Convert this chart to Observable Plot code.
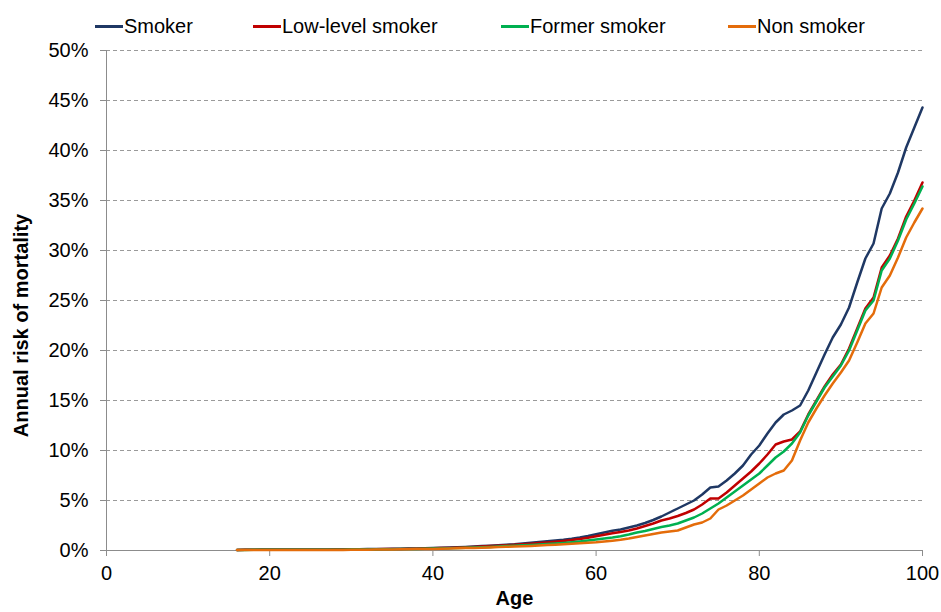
<!DOCTYPE html>
<html>
<head>
<meta charset="utf-8">
<script src="https://cdn.jsdelivr.net/npm/d3@7"></script>
<script src="https://cdn.jsdelivr.net/npm/@observablehq/plot@0.6"></script>
<style>
  html, body { margin: 0; padding: 0; background: #fff; }
  #wrap { width: 941px; font-family: "Liberation Sans", Arial, sans-serif; }
  #legend { position: relative; height: 40px; width: 941px; }
  .sw { position: absolute; top: 25px; width: 28px; height: 3px; }
  .lbl { position: absolute; top: 14px; font-size: 20px; line-height: 24px; white-space: nowrap; color: #000; }
</style>
</head>
<body>
<div id="wrap">
  <div id="legend"></div>
  <div id="chart"></div>
</div>
<script>
const seriesNames = ["Smoker", "Low-level smoker", "Former smoker", "Non smoker"];
const seriesColors = ["#1F3864", "#C00000", "#00B050", "#E46C0A"];

const ages = [16,17,18,19,20,21,22,23,24,25,26,27,28,29,
  30,31,32,33,34,35,36,37,38,39,
  40,41,42,43,44,45,46,47,48,49,
  50,51,52,53,54,55,56,57,58,59,
  60,61,62,63,64,65,66,67,68,69,
  70,71,72,73,74,75,76,77,78,79,
  80,81,82,83,84,85,86,87,88,89,
  90,91,92,93,94,95,96,97,98,99,100];

const smoker = [0.06,0.07,0.08,0.09,0.09,0.09,0.10,0.09,0.09,0.09,0.09,0.09,0.10,0.11,
  0.12,0.13,0.14,0.15,0.16,0.17,0.18,0.19,0.20,0.22,
  0.24,0.27,0.29,0.32,0.36,0.40,0.44,0.48,0.53,0.58,
  0.63,0.70,0.77,0.84,0.92,1.00,1.08,1.18,1.30,1.45,
  1.62,1.80,1.98,2.10,2.30,2.50,2.75,3.05,3.40,3.80,
  4.20,4.60,5.00,5.60,6.30,6.40,7.00,7.70,8.50,9.60,
  10.5,11.7,12.8,13.6,14.0,14.5,16.0,17.8,19.6,21.3,
  22.6,24.3,26.8,29.2,30.7,34.2,35.7,37.8,40.3,42.3,44.3];

const lowLevel = [0.06,0.07,0.08,0.08,0.08,0.08,0.08,0.08,0.08,0.08,0.08,0.08,0.09,0.10,
  0.11,0.12,0.12,0.13,0.14,0.15,0.16,0.17,0.18,0.20,
  0.22,0.24,0.26,0.29,0.32,0.36,0.40,0.44,0.48,0.52,
  0.57,0.62,0.68,0.74,0.80,0.87,0.95,1.04,1.15,1.28,
  1.43,1.58,1.72,1.85,2.00,2.20,2.45,2.70,3.00,3.20,
  3.45,3.75,4.10,4.60,5.20,5.20,5.80,6.50,7.20,7.90,
  8.70,9.60,10.6,10.9,11.1,11.9,13.6,15.0,16.4,17.6,
  18.6,20.2,22.2,24.2,25.3,28.3,29.5,31.2,33.4,35.0,36.8];

const former = [0.05,0.06,0.07,0.07,0.07,0.07,0.07,0.07,0.07,0.07,0.07,0.07,0.08,0.08,
  0.09,0.10,0.10,0.11,0.12,0.13,0.14,0.15,0.16,0.17,
  0.19,0.21,0.23,0.25,0.27,0.30,0.33,0.36,0.40,0.44,
  0.48,0.52,0.56,0.60,0.65,0.70,0.76,0.83,0.91,1.00,
  1.10,1.20,1.30,1.42,1.60,1.80,1.95,2.15,2.35,2.50,
  2.70,3.00,3.30,3.70,4.20,4.70,5.30,5.90,6.50,7.10,
  7.70,8.50,9.30,9.90,10.7,11.8,13.5,14.9,16.3,17.4,
  18.5,20.0,22.0,24.0,25.0,28.0,29.2,31.0,33.1,34.7,36.4];

const nonSmoker = [0.05,0.05,0.06,0.06,0.06,0.06,0.06,0.06,0.06,0.06,0.06,0.06,0.06,0.06,
  0.07,0.08,0.08,0.09,0.10,0.11,0.12,0.13,0.14,0.15,
  0.16,0.18,0.20,0.22,0.24,0.26,0.28,0.31,0.34,0.37,
  0.40,0.43,0.46,0.50,0.54,0.58,0.63,0.68,0.73,0.78,
  0.83,0.90,0.98,1.07,1.20,1.35,1.50,1.65,1.80,1.90,
  2.00,2.30,2.60,2.80,3.20,4.10,4.50,5.00,5.50,6.10,
  6.70,7.30,7.70,8.00,9.00,11.0,12.8,14.2,15.5,16.7,
  17.8,19.0,20.8,22.7,23.7,26.3,27.5,29.3,31.3,32.8,34.2];

const xTicks = [0, 20, 40, 60, 80, 100];
const yTicks = [0, 5, 10, 15, 20, 25, 30, 35, 40, 45, 50];
const yLabel = "Annual risk of mortality";
const xLabel = "Age";

const seriesValues = [smoker, lowLevel, former, nonSmoker];
const data = [];
seriesNames.forEach((name, i) => {
  ages.forEach((a, j) => data.push({series: name, age: a, value: seriesValues[i][j]}));
});

// legend
const legendPos = [95, 253, 501, 728];
const legend = document.getElementById("legend");
seriesNames.forEach((name, i) => {
  const sw = document.createElement("div");
  sw.className = "sw";
  sw.style.left = legendPos[i] + "px";
  sw.style.background = seriesColors[i];
  legend.appendChild(sw);
  const t = document.createElement("div");
  t.className = "lbl";
  t.style.left = (legendPos[i] + 29) + "px";
  t.textContent = name;
  legend.appendChild(t);
});

const chart = Plot.plot({
  width: 941,
  height: 572,
  marginTop: 10,
  marginBottom: 62,
  marginLeft: 106,
  marginRight: 19,
  style: {fontFamily: "'Liberation Sans', Arial, sans-serif", fontSize: "20px", color: "#000", background: "#fff"},
  x: {domain: [0, 100], label: null},
  y: {domain: [0, 50], label: null},
  color: {domain: seriesNames, range: seriesColors},
  marks: [
    Plot.gridY(yTicks.filter(d => d > 0), {stroke: "#9a9a9a", strokeOpacity: 1, strokeDasharray: "4,3", strokeWidth: 1}),
    Plot.axisY(yTicks, {tickSize: 6, tickPadding: 12, tickFormat: d => d + "%", stroke: "#8c8c8c", fontSize: 20}),
    Plot.axisX(xTicks, {tickSize: 6, tickPadding: 9, stroke: "#8c8c8c", fontSize: 20}),
    Plot.ruleX([0], {stroke: "#8c8c8c"}),
    Plot.ruleY([0], {stroke: "#8c8c8c"}),
    Plot.line(data, {x: "age", y: "value", z: "series", stroke: "series", strokeWidth: 2.5, curve: "linear"}),
    Plot.text([yLabel], {text: d => d, frameAnchor: "left", textAnchor: "middle", lineAnchor: "middle", rotate: -90, dx: -85, dy: 25, fontWeight: "bold", fontSize: 20}),
    Plot.text([xLabel], {text: d => d, frameAnchor: "bottom", textAnchor: "middle", dy: 54, fontWeight: "bold", fontSize: 20})
  ]
});
document.getElementById("chart").appendChild(chart);
</script>
</body>
</html>
